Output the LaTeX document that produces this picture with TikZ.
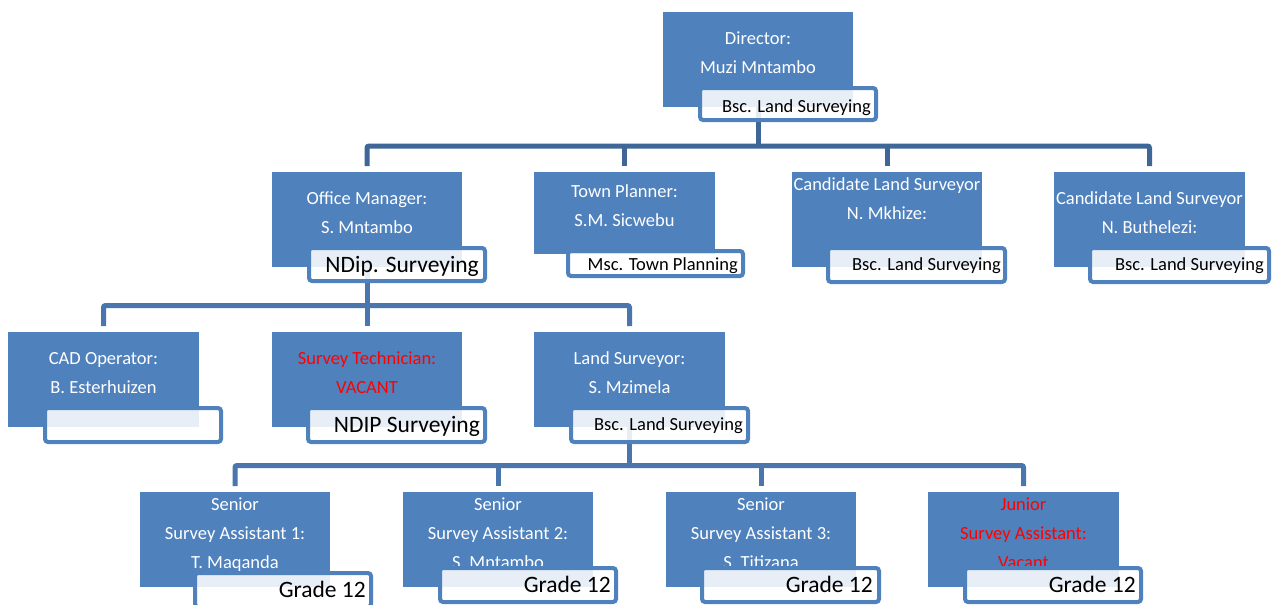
\documentclass[tikz,border=0pt]{standalone}
\usepackage{fontspec}
\setmainfont{Carlito}
\definecolor{boxblue}{HTML}{4F81BD}
\definecolor{lineA}{HTML}{3E6697}
\definecolor{lineB}{HTML}{4A76AD}
\definecolor{vac}{HTML}{FF0000}
\newcommand\ltab[1]{\begin{tabular}[t]{@{}c@{}}#1\end{tabular}}
\tikzset{
  bluebox/.style={fill=boxblue, draw=none, inner sep=0pt, outer sep=0pt},
  wbox/.style={draw=boxblue, line width=4pt, fill=white, fill opacity=0.87, rounded corners=3pt, inner sep=0pt, outer sep=0pt},
  btxt/.style={text=white, inner sep=0pt, anchor=base, font=\fontsize{18.5}{29}\selectfont},
  qtxt/.style={text=black, inner sep=0pt, anchor=base east, font=\fontsize{18.5}{22}\selectfont},
  qbig/.style={text=black, inner sep=0pt, anchor=base east, font=\fontsize{23.5}{28}\selectfont},
  connA/.style={draw=lineA, line width=5pt, rounded corners=2pt},
  connB/.style={draw=lineB, line width=5pt, rounded corners=2pt},
}
\begin{document}
\begin{tikzpicture}[x=1pt,y=-1pt]
\useasboundingbox (0,0) rectangle (1272,605);
% ---------- blue boxes ----------
\node[bluebox, minimum width=190pt, minimum height=95pt] (dirB) at (758,59.5) {};
\node[btxt] (dirT) at (758,44) {\ltab{Director:\\Muzi Mntambo}};

\node[bluebox, minimum width=190pt, minimum height=95pt] (omB) at (367,219.5) {};
\node[btxt] (omT) at (367,204) {\ltab{Office Manager:\\S. Mntambo}};

\node[bluebox, minimum width=181pt, minimum height=82pt] (tpB) at (624.5,213) {};
\node[btxt] (tpT) at (624.5,197) {\ltab{Town Planner:\\S.M. Sicwebu}};

\node[bluebox, minimum width=190pt, minimum height=95pt] (c1B) at (887,219.5) {};
\node[btxt] (c1T) at (887,190) {\ltab{Candidate Land Surveyor\\N. Mkhize:}};

\node[bluebox, minimum width=191pt, minimum height=95pt] (c2B) at (1149.5,219.5) {};
\node[btxt] (c2T) at (1149.5,204) {\ltab{Candidate Land Surveyor\\N. Buthelezi:}};

\node[bluebox, minimum width=191pt, minimum height=95pt] (cadB) at (103.5,379.5) {};
\node[btxt] (cadT) at (103.5,364) {\ltab{CAD Operator:\\B. Esterhuizen}};

\node[bluebox, minimum width=190pt, minimum height=95pt] (stB) at (367,379.5) {};
\node[btxt, text=vac] (stT) at (367,364) {\ltab{Survey Technician:\\VACANT}};

\node[bluebox, minimum width=191pt, minimum height=95pt] (lsB) at (629.5,379.5) {};
\node[btxt] (lsT) at (629.5,364) {\ltab{Land Surveyor:\\S. Mzimela}};

\node[bluebox, minimum width=190pt, minimum height=95pt] (sa1B) at (235,539.5) {};
\node[btxt] (sa1T) at (235,510) {\ltab{Senior\\Survey Assistant 1:\\T. Maqanda}};

\node[bluebox, minimum width=190pt, minimum height=95pt] (sa2B) at (498,539.5) {};
\node[btxt] (sa2T) at (498,510) {\ltab{Senior\\Survey Assistant 2:\\S. Mntambo}};

\node[bluebox, minimum width=190pt, minimum height=95pt] (sa3B) at (761,539.5) {};
\node[btxt] (sa3T) at (761,510) {\ltab{Senior\\Survey Assistant 3:\\S. Titizana}};

\node[bluebox, minimum width=191pt, minimum height=95pt] (jrB) at (1023.5,539.5) {};
\node[btxt, text=vac] (jrT) at (1023.5,510) {\ltab{Junior\\Survey Assistant:\\Vacant}};

% ---------- connectors ----------
\coordinate (bar1) at (758,146);
\coordinate (bar2) at (367,305.5);
\coordinate (bar3) at (629.5,465.5);
\draw[connA] (dirB.south) -- (bar1);
\draw[connA] ([yshift=6pt]omB.north) -- (omB.north |- bar1) -- (c2B.north |- bar1) -- ([yshift=6pt]c2B.north);
\draw[connA] ([yshift=6pt]tpB.north) -- (tpB.north |- bar1);
\draw[connA] ([yshift=6pt]c1B.north) -- (c1B.north |- bar1);

\draw[connB] (omB.south) -- (bar2);
\draw[connB] ([yshift=6pt]cadB.north) -- (cadB.north |- bar2) -- (lsB.north |- bar2) -- ([yshift=6pt]lsB.north);
\draw[connB] ([yshift=6pt]stB.north) -- (stB.north |- bar2);

\draw[connB] (lsB.south) -- (bar3);
\draw[connB] ([yshift=6pt]sa1B.north) -- (sa1B.north |- bar3) -- (jrB.north |- bar3) -- ([yshift=6pt]jrB.north);
\draw[connB] ([yshift=6pt]sa2B.north) -- (sa2B.north |- bar3);
\draw[connB] ([yshift=6pt]sa3B.north) -- (sa3B.north |- bar3);

% ---------- qualification boxes ----------
\node[wbox, minimum width=176pt, minimum height=32pt] (dirW) at (788,104) {};
\node[qtxt] (dirQ) at (871,112) {Bsc. Land Surveying};

\node[wbox, minimum width=176pt, minimum height=33pt] (omW) at (397,264.5) {};
\node[qbig] (omQ) at (479,272) {NDip. Surveying};

\node[wbox, minimum width=175pt, minimum height=25pt] (tpW) at (655.5,263.5) {};
\node[qtxt] (tpQ) at (738,270) {Msc. Town Planning};

\node[wbox, minimum width=177pt, minimum height=34pt] (c1W) at (916.5,265) {};
\node[qtxt] (c1Q) at (1001,270) {Bsc. Land Surveying};

\node[wbox, minimum width=179pt, minimum height=34pt] (c2W) at (1179.5,265) {};
\node[qtxt] (c2Q) at (1264,270) {Bsc. Land Surveying};

\node[wbox, minimum width=176pt, minimum height=34pt] (cadW) at (133,425) {};

\node[wbox, minimum width=177pt, minimum height=34pt] (stW) at (396.5,425) {};
\node[qbig] (stQ) at (480,432) {NDIP Surveying};

\node[wbox, minimum width=177pt, minimum height=34pt] (lsW) at (659.5,425) {};
\node[qtxt] (lsQ) at (743,430) {Bsc. Land Surveying};

\node[wbox, minimum width=176pt, minimum height=34pt] (sa1W) at (283,590) {};
\node[qbig] (sa1Q) at (366,597) {Grade 12};

\node[wbox, minimum width=176pt, minimum height=34pt] (sa2W) at (528,585) {};
\node[qbig] (sa2Q) at (611,592) {Grade 12};

\node[wbox, minimum width=177pt, minimum height=34pt] (sa3W) at (790.5,585) {};
\node[qbig] (sa3Q) at (873,592) {Grade 12};

\node[wbox, minimum width=176pt, minimum height=34pt] (jrW) at (1053,585) {};
\node[qbig] (jrQ) at (1136,592) {Grade 12};
\end{tikzpicture}
\end{document}
